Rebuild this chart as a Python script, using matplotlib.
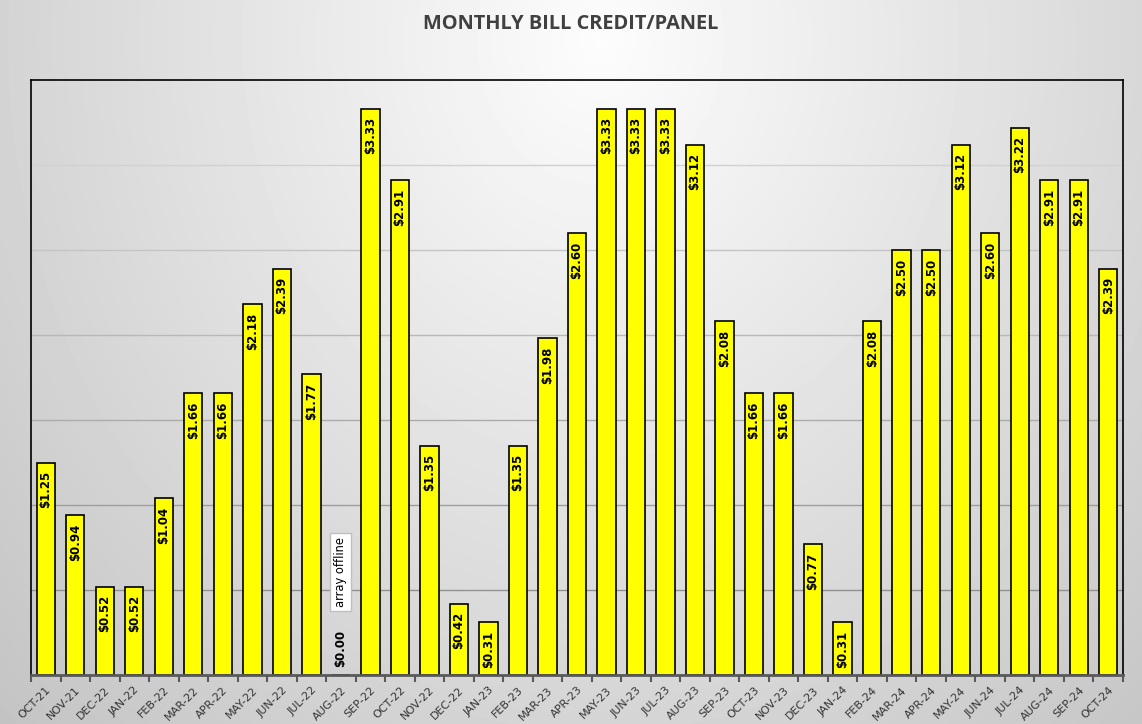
import numpy as np
import matplotlib
matplotlib.use("Agg")
import matplotlib.pyplot as plt

# Monthly bill credit per panel, Oct 2021 - Oct 2024
months = [
    "OCT-21", "NOV-21", "DEC-22", "JAN-22", "FEB-22", "MAR-22", "APR-22", "MAY-22",
    "JUN-22", "JUL-22", "AUG-22", "SEP-22", "OCT-22", "NOV-22", "DEC-22", "JAN-23",
    "FEB-23", "MAR-23", "APR-23", "MAY-23", "JUN-23", "JUL-23", "AUG-23", "SEP-23",
    "OCT-23", "NOV-23", "DEC-23", "JAN-24", "FEB-24", "MAR-24", "APR-24", "MAY-24",
    "JUN-24", "JUL-24", "AUG-24", "SEP-24", "OCT-24",
]
credit = [
    1.25, 0.94, 0.52, 0.52, 1.04, 1.66, 1.66, 2.18,
    2.39, 1.77, 0.00, 3.33, 2.91, 1.35, 0.42, 0.31,
    1.35, 1.98, 2.60, 3.33, 3.33, 3.33, 3.12, 2.08,
    1.66, 1.66, 0.77, 0.31, 2.08, 2.50, 2.50, 3.12,
    2.60, 3.22, 2.91, 2.91, 2.39,
]
offline_month = "AUG-22"

W, H = 1142, 724
fig = plt.figure(figsize=(W / 100, H / 100), dpi=100)

# Radial grey background, lightest near the top centre
bg = fig.add_axes([0, 0, 1, 1], zorder=0)
yy, xx = np.mgrid[0:H, 0:W]
r = np.sqrt(((xx - 600) / 600.0) ** 2 + ((yy - 40) / 700.0) ** 2)
shade = np.clip(0.99 - 0.16 * r, 0, 1)
bg.imshow(shade, cmap="gray", vmin=0, vmax=1, aspect="auto", extent=(0, 1, 0, 1))
bg.axis("off")

ax = fig.add_axes([31 / W, 1 - 675 / H, (1123 - 31) / W, (675 - 80) / H], zorder=1)
ax.patch.set_alpha(0)

x = np.arange(len(months))
ax.set_xlim(-0.5, len(months) - 0.5)
ax.set_ylim(0, 3.5)

# Gridlines get darker toward the bottom, like the original
for lvl in np.arange(0.5, 3.5, 0.5):
    g = 0.52 + 0.1 * lvl
    ax.axhline(lvl, color=(g, g, g), lw=1, zorder=1)

ax.bar(x, credit, width=0.62, color="#ffff00", edgecolor="black", linewidth=1.2, zorder=2)

# Value labels inside the top of each bar
for xi, v in zip(x, credit):
    if v >= 0.3:
        ax.annotate(f"${v:.2f}", (xi, v), xytext=(0, -6), textcoords="offset points",
                    rotation=90, ha="center", va="top", fontsize=8.5,
                    fontweight="bold", color="black", zorder=3)
    else:
        ax.annotate(f"${v:.2f}", (xi, 0), xytext=(0, 6), textcoords="offset points",
                    rotation=90, ha="center", va="bottom", fontsize=8.5,
                    fontweight="bold", color="black", zorder=3)

ax.text(months.index(offline_month), 0.606, "array offline", rotation=90,
        ha="center", va="center", fontsize=8.3, color="black", zorder=3,
        bbox=dict(boxstyle="square,pad=0.35", fc="white", ec="#bfbfbf", lw=1))

# Axes styling
ax.set_yticks([])
ax.set_xticks(x)
ax.set_xticklabels(months, rotation=45, ha="right", rotation_mode="anchor",
                   fontsize=8, color="#333333")
ax.tick_params(axis="x", which="major", length=0, pad=7)
ax.set_xticks(np.arange(-0.5, len(months), 1), minor=True)
ax.tick_params(axis="x", which="minor", length=5, width=1.5, color="#595959", direction="out")
for side in ["left", "top", "right"]:
    ax.spines[side].set_color("black")
    ax.spines[side].set_linewidth(1.2)
ax.spines["bottom"].set_color("#595959")
ax.spines["bottom"].set_linewidth(2)

fig.text(0.5, 1 - 24 / H, "MONTHLY BILL CREDIT/PANEL", ha="center", va="center",
         fontsize=14.4, fontweight="bold", color="#404040", family="Open Sans")

fig.savefig("out.png", dpi=100)
